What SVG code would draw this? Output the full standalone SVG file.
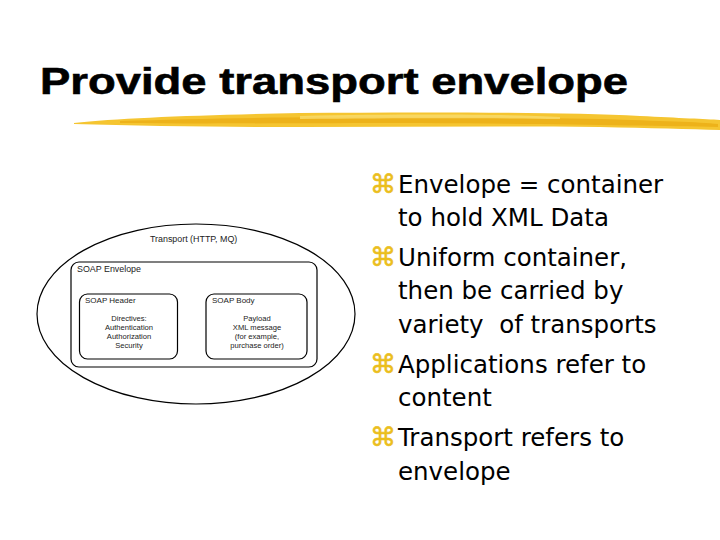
<svg xmlns="http://www.w3.org/2000/svg" width="720" height="540" viewBox="0 0 720 540">
<style>
.title{font-family:"Liberation Sans",Arial,sans-serif;font-weight:bold;font-size:37px;fill:#000;stroke:#000;stroke-width:0.6px}
.b{font-family:"DejaVu Sans","Liberation Sans",sans-serif;font-size:24.5px;fill:#000}
.bul{font-family:"DejaVu Sans",sans-serif;font-size:26px;fill:#EBBE1E;stroke:#EBBE1E;stroke-width:0.6px}
.s{font-family:"Liberation Sans",Arial,sans-serif;font-size:8px;fill:#222}
.t{font-family:"Liberation Sans",Arial,sans-serif;font-size:8.9px;fill:#222}
.sc{font-family:"Liberation Sans",Arial,sans-serif;font-size:7.6px;fill:#222;text-anchor:middle}
.box{fill:#fff;stroke:#000;stroke-width:1.2}
</style>
<rect width="720" height="540" fill="#fff"/>
<text class="title" x="40" y="94" textLength="588" lengthAdjust="spacingAndGlyphs">Provide transport envelope</text>
<g id="brush">
<path d="M74,123 C120,118 200,115 300,113 C420,112 560,112 640,116 C680,118 705,119 720,120 L720,130 C690,129 650,128 600,127 C500,126 400,127 300,127 C220,127 140,126 74,124 Z" fill="#F5C531"/>
<path d="M120,121 C250,117 420,115 600,119 C660,121 700,122 718,124 L718,127 C650,126 560,124 420,123 C300,123 200,124 120,123 Z" fill="#EDB21A"/>
<path d="M300,116 C400,114 500,114 560,117 L560,119 C500,118 400,118 300,119 Z" fill="#F9DC6E" opacity="0.8"/>
</g>
<g id="transport">
<ellipse cx="196" cy="314" rx="159" ry="90" fill="#fff" stroke="#000" stroke-width="1.2"/>
<text class="t" x="150" y="242">Transport (HTTP, MQ)</text>
</g>
<g id="envelope">
<rect class="box" x="71" y="262" width="246" height="105" rx="8"/>
<text class="t" x="77" y="272">SOAP Envelope</text>
</g>
<g id="header">
<rect class="box" x="79.5" y="294" width="98" height="65" rx="8"/>
<text class="s" x="85" y="303">SOAP Header</text>
<text class="sc" x="129" y="321">Directives:</text>
<text class="sc" x="129" y="330">Authentication</text>
<text class="sc" x="129" y="339">Authorization</text>
<text class="sc" x="129" y="348">Security</text>
</g>
<g id="body">
<rect class="box" x="206" y="294" width="101" height="65" rx="8"/>
<text class="s" x="212" y="303">SOAP Body</text>
<text class="sc" x="257" y="321">Payload</text>
<text class="sc" x="257" y="330">XML message</text>
<text class="sc" x="257" y="339">(for example,</text>
<text class="sc" x="257" y="348">purchase order)</text>
</g>
<g id="connectors"></g>
<g id="bullets">
<text class="bul" x="370" y="193">⌘</text>
<text class="b" x="398" y="193">Envelope = container</text>
<text class="b" x="398" y="226">to hold XML Data</text>
<text class="bul" x="370" y="266">⌘</text>
<text class="b" x="398" y="266">Uniform container,</text>
<text class="b" x="398" y="299">then be carried by</text>
<text class="b" x="398" y="333" xml:space="preserve">variety  of transports</text>
<text class="bul" x="370" y="373">⌘</text>
<text class="b" x="398" y="373">Applications refer to</text>
<text class="b" x="398" y="406">content</text>
<text class="bul" x="370" y="446">⌘</text>
<text class="b" x="398" y="446">Transport refers to</text>
<text class="b" x="398" y="480">envelope</text>
</g>
</svg>
